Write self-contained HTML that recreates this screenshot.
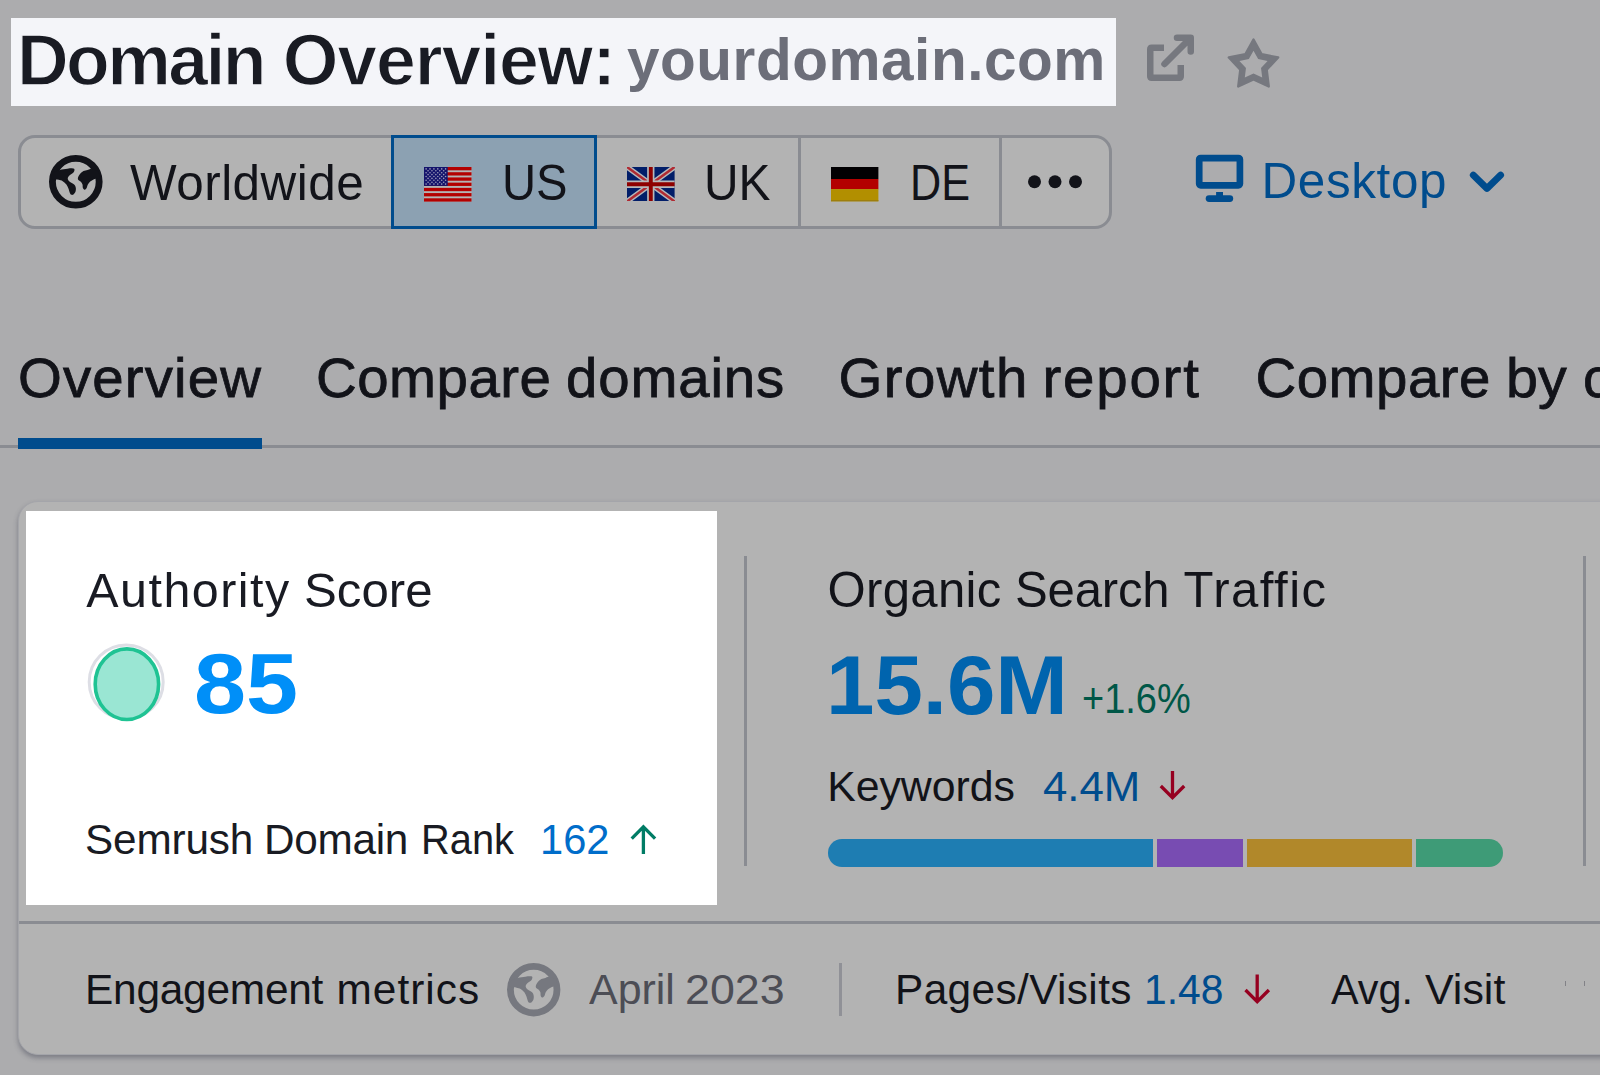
<!DOCTYPE html><html lang="en"><head><meta charset="utf-8"><title>Domain Overview</title><style>
html,body{margin:0;padding:0}
body{width:1600px;height:1075px;overflow:hidden;background:#acacae;position:relative;font-family:"Liberation Sans",sans-serif}
.p{position:absolute;left:0;width:0;height:0;margin:0;padding:0;line-height:1;white-space:nowrap;text-decoration:none}
.t{position:absolute;top:0;white-space:nowrap;line-height:1;display:block;transform-origin:0 0}
.m{-webkit-text-stroke:0.8px currentColor}
.th{-webkit-text-stroke:1.3px #f4f5f9}
.i{position:absolute;display:block;overflow:visible}
.a{position:absolute;box-sizing:border-box}
</style></head><body>
<header>
<div class="a" style="left:11px;top:17.6px;width:1105px;height:88px;background:#f4f5f9"></div>
<h1 id="t1" class="p th" style="top:24.99px;font-size:71.6px;font-weight:bold;color:#191b23"><span id="t1_0" class="t" style="left:17.00px;letter-spacing:-2.600px">Domain</span> <span id="t1_1" class="t" style="left:282.75px;letter-spacing:-1.125px">Overview:</span></h1>
<div id="t2" class="p" style="top:31.48px;font-size:58.5px;font-weight:bold;color:#6c6e79"><span id="t2_0" class="t" style="left:627.00px;letter-spacing:0.538px">yourdomain.com</span></div>
<svg class="i" role="img" aria-label="Open in new tab" style="left:1140px;top:28px" width="60" height="60" viewBox="1140 28 60 60"><path d="M1164,47.75 H1151.75 Q1150.25,47.75 1150.25,49.25 V76.25 Q1150.25,77.75 1151.75,77.75 H1179.25 Q1180.75,77.75 1180.75,76.25 V65" fill="none" stroke="#76787f" stroke-width="6.5"/><path d="M1164.5,64 L1190.5,38 M1177,37.75 H1190.75 V51.5" fill="none" stroke="#76787f" stroke-width="6.5" stroke-linecap="round" stroke-linejoin="round"/></svg>
<svg class="i" role="img" aria-label="Add to favorites" style="left:1220px;top:30px" width="68" height="68" viewBox="1220 30 68 68"><polygon points="1253.50,39.57 1261.66,54.27 1278.16,57.49 1266.70,69.79 1268.74,86.48 1253.50,79.38 1238.26,86.48 1240.30,69.79 1228.84,57.49 1245.34,54.27" fill="#76787f" stroke="#76787f" stroke-width="2.4" stroke-linejoin="round"/><polygon points="1253.50,50.70 1258.15,59.09 1267.57,60.93 1261.03,67.95 1262.20,77.47 1253.50,73.42 1244.80,77.47 1245.97,67.95 1239.43,60.93 1248.85,59.09" fill="#acacae"/></svg>
</header>
<div class="toolbar">
<div class="a" style="left:17.8px;top:134.8px;width:1094.7px;height:94.6px;border:3.3px solid #8a8c92;border-radius:17px;background:#b3b3b3"></div>
<div class="a" style="left:798px;top:138px;width:3px;height:88px;background:#8a8c92"></div>
<div class="a" style="left:998.5px;top:138px;width:3px;height:88px;background:#8a8c92"></div>
<div class="a" style="left:390.5px;top:134.8px;width:206.5px;height:94.6px;border:3.3px solid #004c8d;background:#8ca1b2"></div>
<svg class="i" style="left:48.5px;top:155.2px" width="53.6" height="53.6" viewBox="0 0 100 100"><circle cx="50" cy="50" r="43.6" fill="none" stroke="#121319" stroke-width="12.8"/><path fill="#121319" d="M20.00,28.10C24.57,26.70 30.33,26.12 34.40,25.60C38.47,25.08 42.22,24.78 44.40,25.00C46.58,25.22 47.30,25.65 47.50,26.90C47.70,28.15 47.17,30.63 45.60,32.50C44.03,34.37 39.87,36.23 38.10,38.10C36.33,39.98 35.00,41.87 35.00,43.75C35.00,45.63 36.12,47.52 38.10,49.40C40.08,51.27 44.92,53.02 46.90,55.00C48.88,56.98 49.58,58.96 50.00,61.25C50.42,63.54 50.13,66.67 49.40,68.75C48.67,70.83 46.75,72.81 45.60,73.75C44.45,74.69 43.53,74.71 42.50,74.40C41.47,74.09 40.44,73.88 39.40,71.90C38.36,69.92 37.40,65.32 36.25,62.50C35.10,59.68 34.27,57.29 32.50,55.00C30.73,52.71 28.00,50.21 25.60,48.75C23.20,47.29 20.28,46.77 18.10,46.25C15.92,45.73 14.52,45.81 12.50,45.60C10.48,45.39 6.92,46.93 6.00,45.00C5.08,43.07 4.67,36.82 7.00,34.00C9.33,31.18 15.43,29.50 20.00,28.10Z"/><path fill="#121319" d="M78.10,26.00C74.92,25.68 74.18,27.43 71.90,28.10C69.62,28.77 66.70,28.85 64.40,30.00C62.10,31.15 59.77,33.12 58.10,35.00C56.43,36.88 55.02,39.38 54.40,41.25C53.78,43.12 53.57,44.79 54.40,46.25C55.23,47.71 58.05,48.54 59.40,50.00C60.75,51.46 61.88,53.12 62.50,55.00C63.12,56.88 62.48,59.62 63.10,61.25C63.73,62.88 65.10,64.64 66.25,64.75C67.40,64.86 68.96,63.52 70.00,61.90C71.04,60.27 71.35,57.08 72.50,55.00C73.65,52.92 75.13,50.97 76.90,49.40C78.67,47.83 81.23,46.54 83.10,45.60C84.97,44.66 86.28,44.35 88.10,43.75C89.92,43.15 93.52,44.29 94.00,42.00C94.48,39.71 93.65,32.67 91.00,30.00C88.35,27.33 81.28,26.32 78.10,26.00Z"/></svg>
<div id="w1" class="p" style="top:157.58px;font-size:49.4px;font-weight:normal;color:#121319"><span id="w1_0" class="t" style="left:130.00px;letter-spacing:0.500px">Worldwide</span></div>
<svg class="i" style="left:423.9px;top:166.8px" width="47.5" height="34.6" viewBox="0 0 47.5 34.6"><rect width="47.5" height="34.6" fill="#b4b4b4"/><rect x="0" y="0.00" width="47.5" height="3.3" fill="#b40000"/><rect x="0" y="5.22" width="47.5" height="3.3" fill="#b40000"/><rect x="0" y="10.43" width="47.5" height="3.3" fill="#b40000"/><rect x="0" y="15.65" width="47.5" height="3.3" fill="#b40000"/><rect x="0" y="20.87" width="47.5" height="3.3" fill="#b40000"/><rect x="0" y="26.08" width="47.5" height="3.3" fill="#b40000"/><rect x="0" y="31.30" width="47.5" height="3.3" fill="#b40000"/><rect x="0" y="0" width="23.7" height="18.9" fill="#14146c"/><circle cx="2.10" cy="1.90" r="0.8" fill="#9a9ab8"/><circle cx="6.00" cy="1.90" r="0.8" fill="#9a9ab8"/><circle cx="9.90" cy="1.90" r="0.8" fill="#9a9ab8"/><circle cx="13.80" cy="1.90" r="0.8" fill="#9a9ab8"/><circle cx="17.70" cy="1.90" r="0.8" fill="#9a9ab8"/><circle cx="21.60" cy="1.90" r="0.8" fill="#9a9ab8"/><circle cx="4.05" cy="3.80" r="0.8" fill="#9a9ab8"/><circle cx="7.95" cy="3.80" r="0.8" fill="#9a9ab8"/><circle cx="11.85" cy="3.80" r="0.8" fill="#9a9ab8"/><circle cx="15.75" cy="3.80" r="0.8" fill="#9a9ab8"/><circle cx="19.65" cy="3.80" r="0.8" fill="#9a9ab8"/><circle cx="2.10" cy="5.70" r="0.8" fill="#9a9ab8"/><circle cx="6.00" cy="5.70" r="0.8" fill="#9a9ab8"/><circle cx="9.90" cy="5.70" r="0.8" fill="#9a9ab8"/><circle cx="13.80" cy="5.70" r="0.8" fill="#9a9ab8"/><circle cx="17.70" cy="5.70" r="0.8" fill="#9a9ab8"/><circle cx="21.60" cy="5.70" r="0.8" fill="#9a9ab8"/><circle cx="4.05" cy="7.60" r="0.8" fill="#9a9ab8"/><circle cx="7.95" cy="7.60" r="0.8" fill="#9a9ab8"/><circle cx="11.85" cy="7.60" r="0.8" fill="#9a9ab8"/><circle cx="15.75" cy="7.60" r="0.8" fill="#9a9ab8"/><circle cx="19.65" cy="7.60" r="0.8" fill="#9a9ab8"/><circle cx="2.10" cy="9.50" r="0.8" fill="#9a9ab8"/><circle cx="6.00" cy="9.50" r="0.8" fill="#9a9ab8"/><circle cx="9.90" cy="9.50" r="0.8" fill="#9a9ab8"/><circle cx="13.80" cy="9.50" r="0.8" fill="#9a9ab8"/><circle cx="17.70" cy="9.50" r="0.8" fill="#9a9ab8"/><circle cx="21.60" cy="9.50" r="0.8" fill="#9a9ab8"/><circle cx="4.05" cy="11.40" r="0.8" fill="#9a9ab8"/><circle cx="7.95" cy="11.40" r="0.8" fill="#9a9ab8"/><circle cx="11.85" cy="11.40" r="0.8" fill="#9a9ab8"/><circle cx="15.75" cy="11.40" r="0.8" fill="#9a9ab8"/><circle cx="19.65" cy="11.40" r="0.8" fill="#9a9ab8"/><circle cx="2.10" cy="13.30" r="0.8" fill="#9a9ab8"/><circle cx="6.00" cy="13.30" r="0.8" fill="#9a9ab8"/><circle cx="9.90" cy="13.30" r="0.8" fill="#9a9ab8"/><circle cx="13.80" cy="13.30" r="0.8" fill="#9a9ab8"/><circle cx="17.70" cy="13.30" r="0.8" fill="#9a9ab8"/><circle cx="21.60" cy="13.30" r="0.8" fill="#9a9ab8"/><circle cx="4.05" cy="15.20" r="0.8" fill="#9a9ab8"/><circle cx="7.95" cy="15.20" r="0.8" fill="#9a9ab8"/><circle cx="11.85" cy="15.20" r="0.8" fill="#9a9ab8"/><circle cx="15.75" cy="15.20" r="0.8" fill="#9a9ab8"/><circle cx="19.65" cy="15.20" r="0.8" fill="#9a9ab8"/><circle cx="2.10" cy="17.10" r="0.8" fill="#9a9ab8"/><circle cx="6.00" cy="17.10" r="0.8" fill="#9a9ab8"/><circle cx="9.90" cy="17.10" r="0.8" fill="#9a9ab8"/><circle cx="13.80" cy="17.10" r="0.8" fill="#9a9ab8"/><circle cx="17.70" cy="17.10" r="0.8" fill="#9a9ab8"/><circle cx="21.60" cy="17.10" r="0.8" fill="#9a9ab8"/></svg>
<div id="w2" class="p" style="top:157.58px;font-size:49.4px;font-weight:normal;color:#121319"><span id="w2_0" class="t" style="left:501.79px;transform:scaleX(0.9564)">US</span></div>
<svg class="i" style="left:627.2px;top:166.8px;overflow:hidden" width="47.6" height="34.5" viewBox="0 0 47.6 34.5"><rect width="47.6" height="34.5" fill="#021e69"/><path d="M0,0 L47.6,34.5 M47.6,0 L0,34.5" stroke="#b6b8ba" stroke-width="5.4"/><path d="M0,0 L47.6,34.5 M47.6,0 L0,34.5" stroke="#b02a32" stroke-width="2.5"/><path d="M23.8,0 V34.5 M0,17.25 H47.6" stroke="#b6b8ba" stroke-width="7.3"/><path d="M23.8,0 V34.5 M0,17.25 H47.6" stroke="#8e0000" stroke-width="3.9"/></svg>
<div id="w3" class="p" style="top:157.58px;font-size:49.4px;font-weight:normal;color:#121319"><span id="w3_0" class="t" style="left:704.14px;transform:scaleX(0.9695)">UK</span></div>
<svg class="i" role="img" aria-label="DE flag" style="left:831.3px;top:167px" width="47.4" height="34.3" viewBox="0 0 47.4 34.3"><rect width="47.4" height="12.1" fill="#010002"/><rect y="12" width="47.4" height="10.2" fill="#b30000"/><rect y="22.1" width="47.4" height="12.20" fill="#b28f00"/><rect y="33.10" width="47.4" height="1.2" fill="#9b7d10"/></svg>
<div id="w4" class="p" style="top:157.58px;font-size:49.4px;font-weight:normal;color:#121319"><span id="w4_0" class="t" style="left:909.94px;transform:scaleX(0.8737)">DE</span></div>
<svg class="i" role="img" aria-label="More countries" style="left:1020px;top:168px" width="70" height="28" viewBox="1020 168 70 28"><circle cx="1034.5" cy="181.75" r="6.5" fill="#121319"/><circle cx="1055" cy="181.75" r="6.5" fill="#121319"/><circle cx="1075.5" cy="181.75" r="6.5" fill="#121319"/></svg>
<svg class="i" aria-hidden="true" style="left:1190px;top:150px" width="60" height="60" viewBox="1190 150 60 60"><rect x="1199.2" y="158.05" width="40.7" height="27.3" rx="1.5" fill="none" stroke="#004c8d" stroke-width="6.7"/><rect x="1216.1" y="192" width="6.9" height="5" fill="#004c8d"/><rect x="1205.7" y="195.2" width="27.5" height="6.7" rx="3.35" fill="#004c8d"/></svg>
<div id="w5" class="p" style="top:156.28px;font-size:49.4px;font-weight:normal;color:#004c8d"><span id="w5_0" class="t" style="left:1261.50px;letter-spacing:0.633px">Desktop</span></div>
<svg class="i" aria-hidden="true" style="left:1462px;top:160px" width="50" height="44" viewBox="1462 160 50 44"><path d="M1473.2,175 L1486.95,188.5 L1500.7,175" fill="none" stroke="#004c8d" stroke-width="6.7" stroke-linecap="round" stroke-linejoin="round"/></svg>
</div>
<nav>
<div class="a" style="left:0;top:445.2px;width:1600px;height:3.2px;background:#8a8c92"></div>
<div class="a" style="left:18px;top:438px;width:244px;height:10.5px;background:#004c8d"></div>
<a id="b1" class="p m" style="top:349.76px;font-size:56.4px;font-weight:normal;color:#121319"><span id="b1_0" class="t" style="left:18.00px;letter-spacing:1.143px">Overview</span></a>
<a id="b2" class="p m" style="top:349.76px;font-size:56.4px;font-weight:normal;color:#121319"><span id="b2_0" class="t" style="left:316.00px;letter-spacing:0.500px">Compare</span> <span id="b2_1" class="t" style="left:566.00px;letter-spacing:0.833px">domains</span></a>
<a id="b3" class="p m" style="top:349.76px;font-size:56.4px;font-weight:normal;color:#121319"><span id="b3_0" class="t" style="left:838.50px;letter-spacing:1.400px">Growth</span> <span id="b3_1" class="t" style="left:1042.50px;letter-spacing:1.800px">report</span></a>
<a id="b4" class="p m" style="top:349.76px;font-size:56.4px;font-weight:normal;color:#121319"><span id="b4_0" class="t" style="left:1255.50px;letter-spacing:0.500px">Compare</span> <span id="b4_1" class="t" style="left:1506.41px;transform:scaleX(1.0183)">by</span> <span id="b4_2" class="t" style="left:1583.00px">countries</span></a>
</nav>
<main>
<div class="a" style="left:18px;top:501px;width:1620px;height:554.2px;background:#b3b3b3;border:1px solid #a4a5aa;border-radius:20px;box-shadow:0 3px 5px rgba(60,62,78,.42)"></div>
<div class="a" style="left:19px;top:920.5px;width:1600px;height:3.3px;background:#8a8c92"></div>
<section>
<div class="a" style="left:26.4px;top:511.3px;width:690.35px;height:394.2px;background:#fff"></div>
<h2 id="c1" class="p" style="top:565.63px;font-size:48.4px;font-weight:normal;color:#191b23"><span id="c1_0" class="t" style="left:86.25px;letter-spacing:1.500px">Authority</span> <span id="c1_1" class="t" style="left:304.21px;transform:scaleX(1.0165)">Score</span></h2>
<svg class="i" aria-hidden="true" style="left:80px;top:636px" width="92" height="92" viewBox="80 636 92 92"><circle cx="126.2" cy="681.9" r="37" fill="none" stroke="#dddee5" stroke-width="3"/><ellipse cx="126.9" cy="684.2" rx="31.7" ry="35.3" fill="#9ae6d3" stroke="#1fc393" stroke-width="3.6"/></svg>
<div id="c2" class="p" style="top:642.22px;font-size:84.5px;font-weight:bold;color:#008ff8"><span id="c2_0" class="t" style="left:193.77px;transform:scaleX(1.1070)">85</span></div>
<div id="c3" class="p" style="top:818.69px;font-size:42.3px;font-weight:normal;color:#191b23"><span id="c3_0" class="t" style="left:85.00px;letter-spacing:-0.167px">Semrush</span> <span id="c3_1" class="t" style="left:264.00px;letter-spacing:-0.280px">Domain</span> <span id="c3_2" class="t" style="left:420.88px;transform:scaleX(0.9418)">Rank</span></div>
<div id="c4" class="p" style="top:818.69px;font-size:42.3px;font-weight:normal;color:#006dca"><span id="c4_0" class="t" style="left:540.05px;transform:scaleX(0.9848)">162</span></div>
<svg class="i" role="img" aria-label="up" style="left:625px;top:818px" width="36" height="42" viewBox="625 818 36 42"><path d="M631.70,838.63 L643.40,826.93 L655.10,838.63 M643.40,826.93 V854.10" fill="none" stroke="#007c65" stroke-width="3.3" stroke-linejoin="miter"/></svg>
</section>
<div class="a" style="left:743.75px;top:556px;width:3px;height:309.5px;background:#8a8c92"></div>
<section>
<h2 id="o1" class="p" style="top:566.24px;font-size:49.1px;font-weight:normal;color:#121319"><span id="o1_0" class="t" style="left:827.50px;letter-spacing:0.333px">Organic</span> <span id="o1_1" class="t" style="left:1015.00px;letter-spacing:-0.200px">Search</span> <span id="o1_2" class="t" style="left:1183.50px;letter-spacing:1.500px">Traffic</span></h2>
<div id="o2" class="p" style="top:642.74px;font-size:84px;font-weight:bold;color:#0064ae"><span id="o2_0" class="t" style="left:825.82px;transform:scaleX(1.0358)">15.6M</span></div>
<div id="o3" class="p" style="top:678.29px;font-size:42.3px;font-weight:normal;color:#005747"><span id="o3_0" class="t" style="left:1081.97px;transform:scaleX(0.8975)">+1.6%</span></div>
<div id="o4" class="p" style="top:764.97px;font-size:42.8px;font-weight:normal;color:#121319"><span id="o4_0" class="t" style="left:827.30px;letter-spacing:-0.057px">Keywords</span></div>
<div id="o5" class="p" style="top:764.97px;font-size:42.8px;font-weight:normal;color:#004c8d"><span id="o5_0" class="t" style="left:1042.71px;transform:scaleX(1.0230)">4.4M</span></div>
<svg class="i" role="img" aria-label="down" style="left:1154px;top:765px" width="36" height="41" viewBox="1154 765 36 41"><path d="M1160.80,785.97 L1172.50,797.67 L1184.20,785.97 M1172.50,797.67 V771.00" fill="none" stroke="#960020" stroke-width="3.3" stroke-linejoin="miter"/></svg>
<div class="a" style="left:827.5px;top:839px;width:325.5px;height:27.5px;background:#1e7db2;border-radius:14px 0 0 14px"></div>
<div class="a" style="left:1156.5px;top:839px;width:86px;height:27.5px;background:#784cb2"></div>
<div class="a" style="left:1246.5px;top:839px;width:165.5px;height:27.5px;background:#b1882a"></div>
<div class="a" style="left:1415.5px;top:839px;width:87px;height:27.5px;background:#3e9b77;border-radius:0 14px 14px 0"></div>
</section>
<div class="a" style="left:1582.75px;top:556px;width:3px;height:309.5px;background:#8a8c92"></div>
<section>
<h2 id="e1" class="p" style="top:968.66px;font-size:42.4px;font-weight:normal;color:#121319"><span id="e1_0" class="t" style="left:85.00px;letter-spacing:-0.222px">Engagement</span> <span id="e1_1" class="t" style="left:336.50px;letter-spacing:1.000px">metrics</span></h2>
<svg class="i" style="left:506.5px;top:963px" width="53.4" height="53.4" viewBox="0 0 100 100"><circle cx="50" cy="50" r="43.6" fill="none" stroke="#76787f" stroke-width="12.8"/><path fill="#76787f" d="M20.00,28.10C24.57,26.70 30.33,26.12 34.40,25.60C38.47,25.08 42.22,24.78 44.40,25.00C46.58,25.22 47.30,25.65 47.50,26.90C47.70,28.15 47.17,30.63 45.60,32.50C44.03,34.37 39.87,36.23 38.10,38.10C36.33,39.98 35.00,41.87 35.00,43.75C35.00,45.63 36.12,47.52 38.10,49.40C40.08,51.27 44.92,53.02 46.90,55.00C48.88,56.98 49.58,58.96 50.00,61.25C50.42,63.54 50.13,66.67 49.40,68.75C48.67,70.83 46.75,72.81 45.60,73.75C44.45,74.69 43.53,74.71 42.50,74.40C41.47,74.09 40.44,73.88 39.40,71.90C38.36,69.92 37.40,65.32 36.25,62.50C35.10,59.68 34.27,57.29 32.50,55.00C30.73,52.71 28.00,50.21 25.60,48.75C23.20,47.29 20.28,46.77 18.10,46.25C15.92,45.73 14.52,45.81 12.50,45.60C10.48,45.39 6.92,46.93 6.00,45.00C5.08,43.07 4.67,36.82 7.00,34.00C9.33,31.18 15.43,29.50 20.00,28.10Z"/><path fill="#76787f" d="M78.10,26.00C74.92,25.68 74.18,27.43 71.90,28.10C69.62,28.77 66.70,28.85 64.40,30.00C62.10,31.15 59.77,33.12 58.10,35.00C56.43,36.88 55.02,39.38 54.40,41.25C53.78,43.12 53.57,44.79 54.40,46.25C55.23,47.71 58.05,48.54 59.40,50.00C60.75,51.46 61.88,53.12 62.50,55.00C63.12,56.88 62.48,59.62 63.10,61.25C63.73,62.88 65.10,64.64 66.25,64.75C67.40,64.86 68.96,63.52 70.00,61.90C71.04,60.27 71.35,57.08 72.50,55.00C73.65,52.92 75.13,50.97 76.90,49.40C78.67,47.83 81.23,46.54 83.10,45.60C84.97,44.66 86.28,44.35 88.10,43.75C89.92,43.15 93.52,44.29 94.00,42.00C94.48,39.71 93.65,32.67 91.00,30.00C88.35,27.33 81.28,26.32 78.10,26.00Z"/></svg>
<div id="e2" class="p" style="top:968.66px;font-size:42.4px;font-weight:normal;color:#4c4d55"><span id="e2_0" class="t" style="left:588.74px;transform:scaleX(1.0126)">April</span> <span id="e2_1" class="t" style="left:684.89px;transform:scaleX(1.0557)">2023</span></div>
<div class="a" style="left:839px;top:962.5px;width:3px;height:53.5px;background:#909197"></div>
<div id="e3" class="p" style="top:968.66px;font-size:42.4px;font-weight:normal;color:#121319"><span id="e3_0" class="t" style="left:895.00px;letter-spacing:0.364px">Pages/Visits</span></div>
<div id="e4" class="p" style="top:968.66px;font-size:42.4px;font-weight:normal;color:#004c8d"><span id="e4_0" class="t" style="left:1144.11px;transform:scaleX(0.9621)">1.48</span></div>
<svg class="i" role="img" aria-label="down" style="left:1239px;top:968px" width="36" height="42" viewBox="1239 968 36 42"><path d="M1245.50,989.97 L1257.20,1001.67 L1268.90,989.97 M1257.20,1001.67 V974.50" fill="none" stroke="#960020" stroke-width="3.3" stroke-linejoin="miter"/></svg>
<div id="e5" class="p" style="top:968.66px;font-size:42.4px;font-weight:normal;color:#121319"><span id="e5_0" class="t" style="left:1331.00px;transform:scaleX(0.9752)">Avg.</span> <span id="e5_1" class="t" style="left:1425.00px;transform:scaleX(1.0127)">Visit</span></div>
<div class="a" style="left:1565px;top:981px;width:1px;height:5px;background:rgba(70,72,82,.45)"></div>
<div class="a" style="left:1583.6px;top:981px;width:1px;height:5px;background:rgba(70,72,82,.45)"></div>
</section>
</main>
</body></html>
